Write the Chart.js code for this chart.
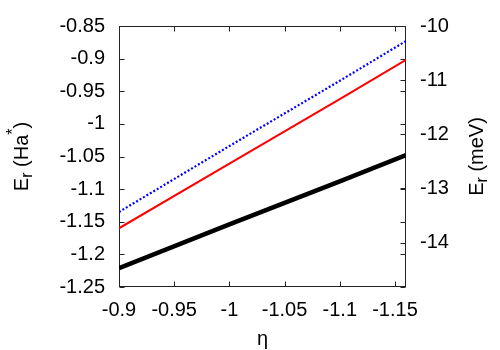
<!DOCTYPE html>
<html>
<head>
<meta charset="utf-8">
<script src="https://cdn.jsdelivr.net/npm/chart.js@4/dist/chart.umd.min.js"></script>
<style>
html, body { margin: 0; padding: 0; background: #fff; }
#wrap { width: 500px; height: 350px; }
</style>
</head>
<body>
<div id="wrap"><canvas id="grafico"></canvas></div>
<script>
// valores
const eta = [-0.9, -1.0, -1.1, -1.16];
const serieAzul = [-1.135, -1.034, -0.934, -0.873];
const serieRoja = [-1.160, -1.061, -0.962, -0.902];
const serieNegra = [-1.221, -1.154, -1.088, -1.048];

const ticksX = [-0.9, -0.95, -1.0, -1.05, -1.1, -1.15];
const ticksY = [-0.85, -0.9, -0.95, -1.0, -1.05, -1.1, -1.15, -1.2, -1.25];
const ticksY2 = [-10, -11, -12, -13, -14];

const FUENTE = "Liberation Sans, Arial, sans-serif";
const fmt = v => String(Number(v.toFixed(2)));

function puntos(serie) {
    return eta.map((e, i) => ({ x: e, y: serie[i] }));
}

// dibuja un texto con partes normales, subindices y superindices
function textoCompuesto(ctx, partes, size) {
    let x = 0;
    partes.forEach(p => {
        const s = p.tipo ? size * 0.8 : size;
        ctx.font = s + "px " + FUENTE;
        let dy = 0;
        if (p.tipo === "sub") dy = size * 0.22;
        if (p.tipo === "sup") dy = -size * 0.5;
        ctx.fillText(p.t, x, dy);
        x += ctx.measureText(p.t).width;
    });
    return x;
}

function anchoCompuesto(ctx, partes, size) {
    let w = 0;
    partes.forEach(p => {
        ctx.font = (p.tipo ? size * 0.8 : size) + "px " + FUENTE;
        w += ctx.measureText(p.t).width;
    });
    return w;
}

const marco = {
    id: "marco",
    beforeDatasetsDraw(chart) {
        const { ctx, chartArea: a, scales } = chart;
        ctx.save();
        ctx.strokeStyle = "#222";
        ctx.lineWidth = 1;
        const L = Math.round(a.left) + 0.5, R = Math.round(a.right) - 0.5;
        const T = Math.round(a.top) + 0.5, B = Math.round(a.bottom) - 0.5;
        ctx.strokeRect(L, T, R - L, B - T);
        ctx.beginPath();
        const t = 5;
        ticksX.forEach(v => {
            const px = Math.round(scales.x.getPixelForValue(v)) + 0.5;
            ctx.moveTo(px, B); ctx.lineTo(px, B - t);
            ctx.moveTo(px, T); ctx.lineTo(px, T + t);
        });
        ticksY.forEach(v => {
            const py = Math.round(scales.y.getPixelForValue(v)) + 0.5;
            ctx.moveTo(L, py); ctx.lineTo(L + t, py);
            ctx.moveTo(R, py); ctx.lineTo(R - t, py);
        });
        ticksY2.forEach(v => {
            const py = Math.round(scales.y2.getPixelForValue(v)) + 0.5;
            ctx.moveTo(R, py); ctx.lineTo(R - t, py);
        });
        ctx.stroke();
        ctx.restore();
    },
    afterDraw(chart) {
        const { ctx, chartArea: a } = chart;
        const size = 20;
        ctx.save();
        ctx.fillStyle = "#000";
        ctx.textBaseline = "alphabetic";
        ctx.textAlign = "left";

        // titulo izquierdo
        const izq = [{ t: "E" }, { t: "r", tipo: "sub" }, { t: " (Ha" }, { t: "*", tipo: "sup" }, { t: ")" }];
        let w = anchoCompuesto(ctx, izq, size);
        ctx.save();
        ctx.translate(28, (a.top + a.bottom) / 2 + w / 2);
        ctx.rotate(-Math.PI / 2);
        textoCompuesto(ctx, izq, size);
        ctx.restore();

        // titulo derecho
        const der = [{ t: "E" }, { t: "r", tipo: "sub" }, { t: " (meV)" }];
        w = anchoCompuesto(ctx, der, size);
        ctx.save();
        ctx.translate(483, (a.top + a.bottom) / 2 + w / 2);
        ctx.rotate(-Math.PI / 2);
        textoCompuesto(ctx, der, size);
        ctx.restore();

        // titulo eje x
        ctx.font = size + "px " + FUENTE;
        ctx.textAlign = "center";
        ctx.fillText("\u03b7", (a.left + a.right) / 2, 345);
        ctx.restore();
    }
};

new Chart(document.getElementById("grafico"), {
    type: "line",
    data: {
        datasets: [
            {
                data: puntos(serieAzul),
                borderColor: "#0000ff",
                borderWidth: 2.2,
                borderDash: [2, 2],
                pointRadius: 0,
                clip: 0
            },
            {
                data: puntos(serieRoja),
                borderColor: "#ff0000",
                borderWidth: 2,
                pointRadius: 0,
                clip: 0
            },
            {
                data: puntos(serieNegra),
                borderColor: "#000000",
                borderWidth: 4.5,
                pointRadius: 0,
                clip: 0
            }
        ]
    },
    options: {
        responsive: true,
        maintainAspectRatio: false,
        animation: false,
        layout: { padding: { top: 25, left: 0, right: 0, bottom: 0 } },
        plugins: {
            legend: { display: false },
            tooltip: { enabled: false }
        },
        scales: {
            x: {
                type: "linear",
                reverse: true,
                min: -1.16,
                max: -0.9,
                afterBuildTicks: s => { s.ticks = ticksX.map(v => ({ value: v })); },
                afterFit: s => { s.height = 63; },
                ticks: {
                    color: "#000",
                    font: { family: FUENTE, size: 20 },
                    padding: 11,
                    maxRotation: 0,
                    autoSkip: false,
                    callback: v => fmt(v)
                },
                grid: { display: false, drawTicks: false },
                border: { display: false }
            },
            y: {
                position: "left",
                min: -1.25,
                max: -0.85,
                afterBuildTicks: s => { s.ticks = ticksY.map(v => ({ value: v })); },
                afterFit: s => { s.width = 119; },
                ticks: {
                    color: "#000",
                    font: { family: FUENTE, size: 20 },
                    padding: 14,
                    autoSkip: false,
                    callback: v => fmt(v)
                },
                grid: { display: false, drawTicks: false },
                border: { display: false }
            },
            y2: {
                position: "right",
                min: -14.82,
                max: -10,
                afterBuildTicks: s => { s.ticks = ticksY2.map(v => ({ value: v })); },
                afterFit: s => { s.width = 94; },
                ticks: {
                    color: "#000",
                    font: { family: FUENTE, size: 20 },
                    padding: 14,
                    autoSkip: false,
                    callback: v => fmt(v)
                },
                grid: { display: false, drawTicks: false },
                border: { display: false }
            }
        }
    },
    plugins: [marco]
});
</script>
</body>
</html>
